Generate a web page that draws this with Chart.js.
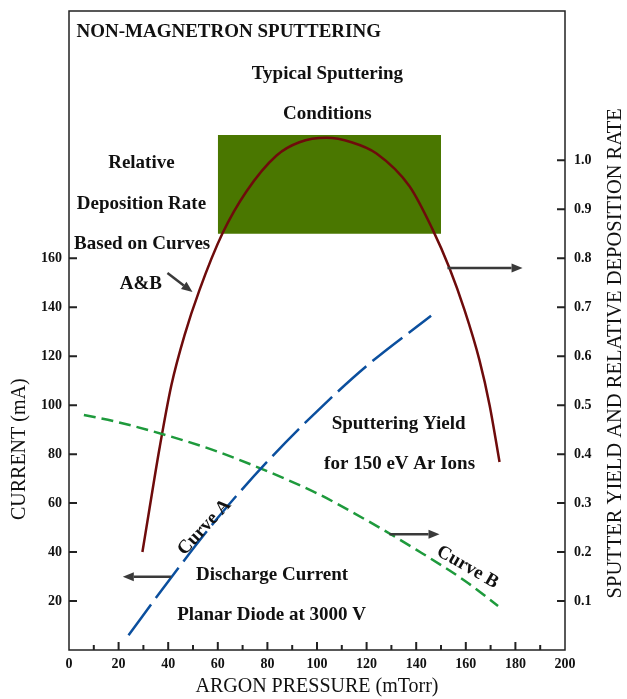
<!DOCTYPE html>
<html>
<head>
<meta charset="utf-8">
<title>Non-magnetron sputtering</title>
<script src="https://cdn.jsdelivr.net/npm/chart.js@4.4.0/dist/chart.umd.min.js"></script>
<style>
  body { margin: 0; background: #fff; }
  canvas { display: block; }
</style>
</head>
<body>
<canvas id="sputterChart" width="627" height="699"></canvas>
<script>
// Curve A - discharge current (mA), left axis
const curveAPressure = [24, 40, 60, 80, 100, 120, 146];
const curveACurrent = [6, 28, 54, 77, 97.5, 116, 136.5];

// Curve B - sputtering yield for 150 eV Ar ions, right axis
const curveBPressure = [6, 20, 40, 60, 80, 100, 120, 140, 160, 173];
const curveBYield = [0.48, 0.465, 0.4375, 0.405, 0.365, 0.32, 0.265, 0.205, 0.14, 0.09];

// relative deposition rate based on curves A & B, right axis
const ratePressure = [29.6, 32.5, 36.5, 41.3, 46.6, 52.6, 61.9, 71.6, 83.7, 92.9, 103.8, 113.9, 124, 137.3, 146.6, 153.4, 159.5, 165.5, 169.6, 173.6];
const rateValues = [0.200, 0.290, 0.412, 0.541, 0.643, 0.735, 0.851, 0.937, 1.010, 1.037, 1.046, 1.037, 1.014, 0.947, 0.859, 0.780, 0.694, 0.592, 0.500, 0.384];

// typical sputtering conditions (green box)
const typicalPressure = [60, 150];
const typicalRateTop = 1.052;
const typicalRateBottom = 0.85;

// tick labels
const pressureTicks = [0, 20, 40, 60, 80, 100, 120, 140, 160, 180, 200];
const pressureMinorTicks = [10, 30, 50, 70, 90, 110, 130, 150, 170, 190];
const currentTicks = [20, 40, 60, 80, 100, 120, 140, 160];
const rateTicks = [0.1, 0.2, 0.3, 0.4, 0.5, 0.6, 0.7, 0.8, 0.9, 1.0];

// annotation text, placed in (pressure, current) units
const notes = [
    { text: 'NON-MAGNETRON SPUTTERING', x: 3, y: 252.5, align: 'left' },
    { text: 'Typical Sputtering', x: 104.2, y: 235.4 },
    { text: 'Conditions', x: 104.2, y: 218.7 },
    { text: 'Relative', x: 29.2, y: 198.8 },
    { text: 'Deposition Rate', x: 29.2, y: 182.3 },
    { text: 'Based on Curves', x: 29.5, y: 165.8 },
    { text: 'A&B', x: 29.0, y: 149.5 },
    { text: 'Sputtering Yield', x: 132.9, y: 92.1 },
    { text: 'for 150 eV Ar Ions', x: 133.3, y: 75.8 },
    { text: 'Curve A', x: 54.6, y: 50.1, angle: -47 },
    { text: 'Curve B', x: 160.7, y: 33.8, angle: 30 },
    { text: 'Discharge Current', x: 81.9, y: 30.5 },
    { text: 'Planar Diode at 3000 V', x: 81.7, y: 14.3 }
];
const arrows = [
    { from: [39.7, 154.0], to: [49.8, 146.2] },
    { from: [152.6, 156.0], to: [182.9, 156.0] },
    { from: [129.2, 47.3], to: [149.4, 47.3] },
    { from: [41.2, 29.9], to: [21.7, 29.9] }
];

const serif = "'Liberation Serif', 'Times New Roman', serif";
Chart.defaults.font.family = serif;
Chart.defaults.color = '#111';

const toPoints = (xs, ys) => xs.map((x, i) => ({ x: x, y: ys[i] }));

function drawArrow(ctx, x1, y1, x2, y2) {
    const ang = Math.atan2(y2 - y1, x2 - x1);
    const head = 11, half = 4.5;
    const bx = x2 - head * Math.cos(ang), by = y2 - head * Math.sin(ang);
    ctx.beginPath();
    ctx.moveTo(x1, y1);
    ctx.lineTo(bx, by);
    ctx.stroke();
    ctx.beginPath();
    ctx.moveTo(x2, y2);
    ctx.lineTo(bx + half * Math.sin(ang), by - half * Math.cos(ang));
    ctx.lineTo(bx - half * Math.sin(ang), by + half * Math.cos(ang));
    ctx.closePath();
    ctx.fill();
}

// frame, inward tick marks, axis titles, notes and arrows
const overlay = {
    id: 'overlay',
    afterDraw(chart) {
        const { ctx, chartArea: a, scales } = chart;
        const sx = scales.x, sy = scales.y, sy1 = scales.y1;
        ctx.save();
        ctx.strokeStyle = '#222';
        ctx.lineWidth = 1.5;
        ctx.strokeRect(a.left, a.top, a.right - a.left, a.bottom - a.top);

        ctx.lineWidth = 2;
        ctx.beginPath();
        pressureTicks.forEach(v => {
            if (v <= 0 || v >= 200) return;
            const px = sx.getPixelForValue(v);
            ctx.moveTo(px, a.bottom); ctx.lineTo(px, a.bottom - 8);
        });
        pressureMinorTicks.forEach(v => {
            const px = sx.getPixelForValue(v);
            ctx.moveTo(px, a.bottom); ctx.lineTo(px, a.bottom - 5);
        });
        currentTicks.forEach(v => {
            const py = sy.getPixelForValue(v);
            ctx.moveTo(a.left, py); ctx.lineTo(a.left + 8, py);
        });
        rateTicks.forEach(v => {
            const py = sy1.getPixelForValue(v);
            ctx.moveTo(a.right - 8, py); ctx.lineTo(a.right, py);
        });
        ctx.stroke();

        // vertical axis titles
        ctx.fillStyle = '#111';
        ctx.textAlign = 'center';
        ctx.textBaseline = 'middle';
        ctx.font = '20px ' + serif;
        ctx.save();
        ctx.translate(20, sy.getPixelForValue(82));
        ctx.rotate(-Math.PI / 2);
        ctx.fillText('CURRENT (mA)', 0, 0);
        ctx.restore();
        ctx.font = '20.5px ' + serif;
        ctx.save();
        ctx.translate(616, sy1.getPixelForValue(0.606));
        ctx.rotate(-Math.PI / 2);
        ctx.fillText('SPUTTER YIELD AND RELATIVE DEPOSITION RATE', 0, 0);
        ctx.restore();

        ctx.font = 'bold 19px ' + serif;
        notes.forEach(n => {
            ctx.save();
            ctx.translate(sx.getPixelForValue(n.x), sy.getPixelForValue(n.y));
            if (n.angle) ctx.rotate(n.angle * Math.PI / 180);
            ctx.textAlign = n.align || 'center';
            ctx.fillText(n.text, 0, 0);
            ctx.restore();
        });

        ctx.strokeStyle = '#3a3a3a';
        ctx.fillStyle = '#3a3a3a';
        ctx.lineWidth = 2.5;
        arrows.forEach(ar => {
            drawArrow(ctx,
                sx.getPixelForValue(ar.from[0]), sy.getPixelForValue(ar.from[1]),
                sx.getPixelForValue(ar.to[0]), sy.getPixelForValue(ar.to[1]));
        });
        ctx.restore();
    }
};

const ctx = document.getElementById('sputterChart').getContext('2d');
const sputterChart = new Chart(ctx, {
    type: 'line',
    data: {
        datasets: [{
            label: 'Curve A - Discharge Current',
            data: toPoints(curveAPressure, curveACurrent),
            yAxisID: 'y',
            borderColor: '#0b4f9e',
            borderWidth: 2.5,
            borderDash: [38, 8],
            pointRadius: 0,
            cubicInterpolationMode: 'monotone',
            fill: false
        }, {
            label: 'Curve B - Sputtering Yield',
            data: toPoints(curveBPressure, curveBYield),
            yAxisID: 'y1',
            borderColor: '#1e9a3c',
            borderWidth: 2.5,
            borderDash: [12, 6],
            pointRadius: 0,
            cubicInterpolationMode: 'monotone',
            fill: false
        }, {
            label: 'Relative Deposition Rate',
            data: toPoints(ratePressure, rateValues),
            yAxisID: 'y1',
            borderColor: '#6e0b0b',
            borderWidth: 2.5,
            pointRadius: 0,
            cubicInterpolationMode: 'monotone',
            fill: false
        }, {
            label: 'Typical Sputtering Conditions',
            data: typicalPressure.map(x => ({ x: x, y: typicalRateTop })),
            yAxisID: 'y1',
            borderWidth: 0,
            borderColor: 'rgba(0,0,0,0)',
            backgroundColor: '#4a7700',
            pointRadius: 0,
            fill: '+1'
        }, {
            label: 'Typical Sputtering Conditions (bottom)',
            data: typicalPressure.map(x => ({ x: x, y: typicalRateBottom })),
            yAxisID: 'y1',
            borderWidth: 0,
            borderColor: 'rgba(0,0,0,0)',
            pointRadius: 0,
            fill: false
        }]
    },
    options: {
        responsive: false,
        animation: false,
        layout: { padding: { top: 11, left: 0, right: 0, bottom: 0 } },
        plugins: {
            legend: { display: false },
            tooltip: { enabled: false }
        },
        scales: {
            x: {
                type: 'linear',
                min: 0,
                max: 200,
                grid: { display: false, drawTicks: false },
                border: { display: false },
                afterBuildTicks: s => { s.ticks = pressureTicks.map(v => ({ value: v })); },
                afterFit: s => { s.height = 49; s.paddingLeft = 0; s.paddingRight = 0; },
                ticks: {
                    padding: 6,
                    maxRotation: 0,
                    autoSkip: false,
                    font: { size: 14, weight: 'bold' },
                    color: '#111'
                },
                title: {
                    display: true,
                    text: 'ARGON PRESSURE (mTorr)',
                    font: { size: 20 },
                    color: '#111',
                    padding: { top: 0, bottom: 0 }
                }
            },
            y: {
                position: 'left',
                min: 0,
                max: 261,
                grid: { display: false, drawTicks: false },
                border: { display: false },
                afterBuildTicks: s => { s.ticks = currentTicks.map(v => ({ value: v })); },
                afterFit: s => { s.width = 69; s.paddingTop = 0; s.paddingBottom = 0; },
                ticks: {
                    padding: 7,
                    autoSkip: false,
                    font: { size: 14, weight: 'bold' },
                    color: '#111'
                }
            },
            y1: {
                position: 'right',
                min: 0,
                max: 1.305,
                grid: { display: false, drawTicks: false },
                border: { display: false },
                afterBuildTicks: s => { s.ticks = rateTicks.map(v => ({ value: v })); },
                afterFit: s => { s.width = 62; s.paddingTop = 0; s.paddingBottom = 0; },
                ticks: {
                    padding: 9,
                    autoSkip: false,
                    font: { size: 14, weight: 'bold' },
                    color: '#111',
                    callback: v => v.toFixed(1)
                }
            }
        }
    },
    plugins: [overlay]
});
</script>
</body>
</html>
